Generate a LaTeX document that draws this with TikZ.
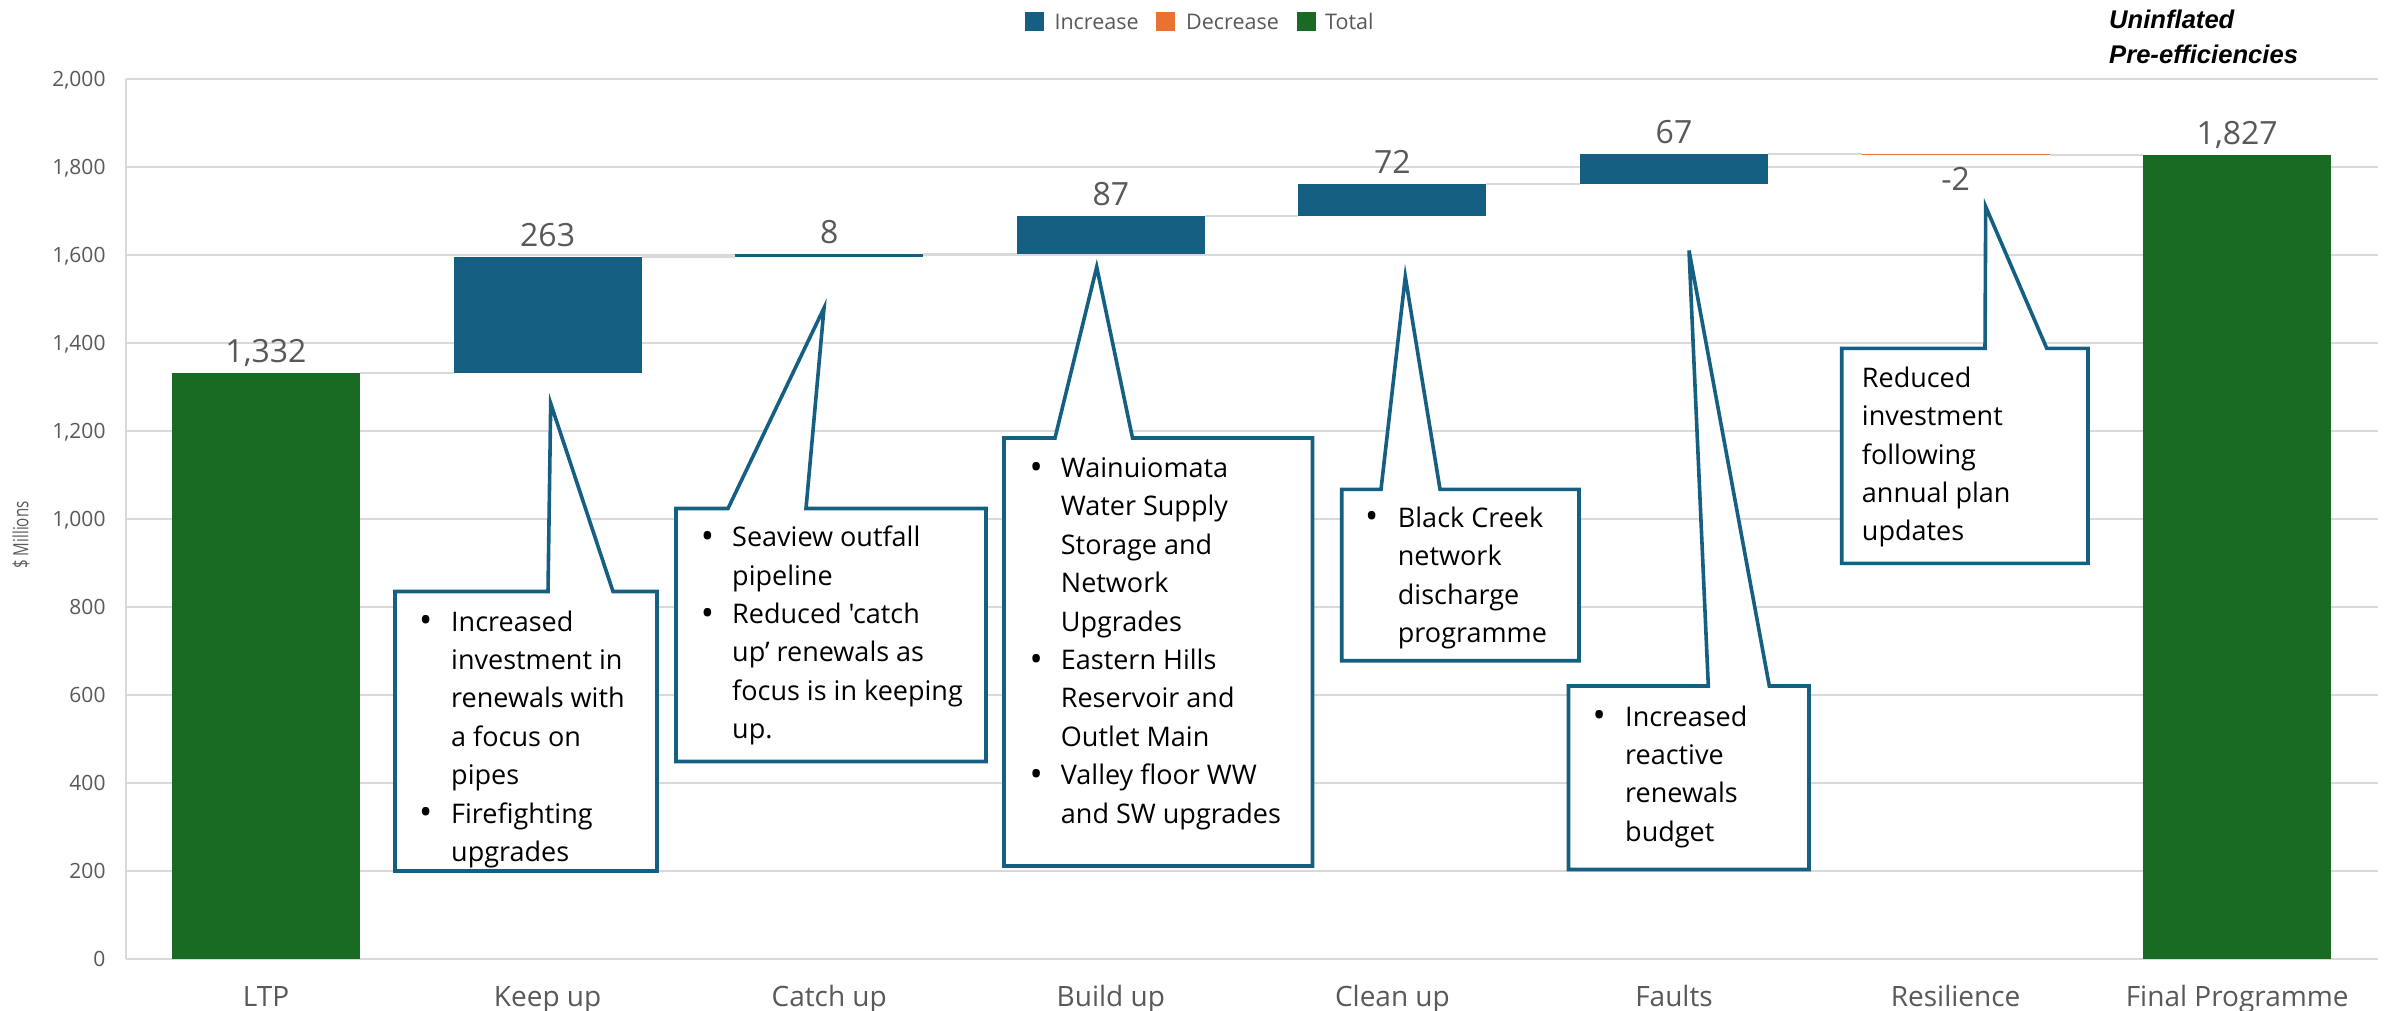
\documentclass[tikz,border=0pt]{standalone}
\usepackage{fontspec}
\usepackage{graphicx}
\setmainfont{Open Sans}
\newfontfamily\calloutfont{Open Sans}[Ligatures=TeXOff]
\newfontfamily\titlefont{Liberation Sans}

\definecolor{incr}{HTML}{156082}
\definecolor{decr}{HTML}{E97132}
\definecolor{total}{HTML}{196B24}
\definecolor{gridgray}{HTML}{D9D9D9}
\definecolor{labelgray}{HTML}{595959}

% value (in $ millions) -> vertical position on the page
\newcommand\vy[1]{958.5-0.4396*(#1)}
% list bullet, a little heavier than the font's own
\newcommand\blt{\raisebox{-1.5pt}{\scalebox{1.3}{\textbullet}}}

\begin{document}
\begin{tikzpicture}[x=1pt,y=-1pt,
  grid/.style={draw=gridgray,line width=2pt},
  conn/.style={draw=gridgray,line width=2pt},
  callout/.style={draw=incr,line width=3.6pt,fill=white,line join=miter},
  ctext/.style={anchor=base west,inner sep=0pt,text=black,
    font=\calloutfont\fontsize{27}{38.4}\selectfont},
  vallabel/.style={anchor=base,inner sep=0pt,text=labelgray,font=\fontsize{32}{38}\selectfont},
  catlabel/.style={anchor=base,inner sep=0pt,text=labelgray,font=\fontsize{28}{34}\selectfont},
  ticklabel/.style={anchor=base east,inner sep=0pt,text=labelgray,font=\fontsize{21}{25}\selectfont},
  legsq/.style={minimum size=18.7pt,inner sep=0pt,draw=none},
  legtxt/.style={anchor=base west,inner sep=0pt,text=labelgray,font=\fontsize{21.5}{26}\selectfont},
  titletxt/.style={anchor=base west,inner sep=0pt,text=black,
    font=\titlefont\bfseries\itshape\fontsize{25.6}{35}\selectfont}
]
\useasboundingbox (0,0) rectangle (2395,1011);
\fill[white] (0,0) rectangle (2395,1011);

% gridlines, axis and tick labels
\foreach \v in {0,200,...,2000}
  \draw[grid] (125.5,{\vy{\v}}) -- (2378,{\vy{\v}});
\draw[grid] (125.5,{\vy{2000}}) -- (125.5,{\vy{0}});
\foreach \v/\t in {0/0,200/200,400/400,600/600,800/800,1000/{1,000},
                   1200/{1,200},1400/{1,400},1600/{1,600},1800/{1,800},2000/{2,000}}
  \node[ticklabel] at (105.7,{\vy{\v}+7.5}) {\t};
\node[rotate=90,inner sep=0pt,text=labelgray,font=\fontsize{21}{24}\selectfont]
  (ytitle) at (21,535) {\scalebox{0.72}[1]{\$ Millions}};

% connectors between consecutive bars
\foreach \c/\v in {266/1332,547.6/1595,829.2/1603,1110.8/1690,1392.4/1762,1674/1829,1955.6/1827}
  \draw[conn] (\c+94,{\vy{\v}}) -- (\c+187.6,{\vy{\v}});

% bars
\foreach \c/\a/\b/\col in {266/0/1332/total,547.6/1332/1595/incr,829.2/1595/1603/incr,
    1110.8/1603/1690/incr,1392.4/1690/1762/incr,1674/1762/1829/incr,
    1955.6/1827/1829/decr,2237.2/0/1827/total}
  \fill[\col] (\c-94,{\vy{\a}}) rectangle (\c+94,{\vy{\b}});

% value labels
\node[vallabel] (v0) at (266,362.5) {1,332};
\node[vallabel] (v1) at (547.6,246.8) {263};
\node[vallabel] (v2) at (829.2,243.3) {8};
\node[vallabel] (v3) at (1110.8,205.1) {87};
\node[vallabel] (v4) at (1392.4,173.4) {72};
\node[vallabel] (v5) at (1674,144) {67};
\node[vallabel] (v6) at (1955.6,190.3) {-2};
\node[vallabel] (v7) at (2237.2,144.9) {1,827};

% category labels
\foreach \c/\t [count=\i] in {266/LTP,547.6/Keep up,829.2/Catch up,1110.8/Build up,
    1392.4/Clean up,1674/Faults,1955.6/Resilience,2237.2/Final Programme}
  \node[catlabel] (cat\i) at (\c,1006) {\t};

% legend
\node[legsq,fill=incr] (lgI) at (1034.4,21.4) {};
\node[legtxt] (lgIt) at (1054.3,29.3) {Increase};
\node[legsq,fill=decr] (lgD) at (1165.4,21.4) {};
\node[legtxt] (lgDt) at (1186,29.3) {Decrease};
\node[legsq,fill=total] (lgT) at (1306.4,21.4) {};
\node[legtxt] (lgTt) at (1325,29.3) {Total};

% heading
\node[titletxt] (t1) at (2109,28.3) {Uninflated};
\node[titletxt] (t2) at (2109,63.3) {Pre-efficiencies};

% callout: Keep up
\coordinate (kTip) at (550.7,403.5);
\draw[callout] (395,591.5) -- (548,591.5) -- (kTip) -- (613,591.5) -- (657,591.5)
  -- (657,871) -- (395,871) -- cycle;
\node[ctext] (kText) at (419,631) {\begin{tabular}[t]{@{}p{32pt}@{}l@{}}
  \blt & Increased\\ & investment in\\ & renewals with\\ & a focus on\\ & pipes\\
  \blt & Firefighting\\ & upgrades\end{tabular}};

% callout: Catch up
\coordinate (cTip) at (824,308);
\draw[callout] (676,508.5) -- (728,508.5) -- (cTip) -- (806,508.5) -- (986,508.5)
  -- (986,761.5) -- (676,761.5) -- cycle;
\node[ctext] (cText) at (700.7,546.7) {\begin{tabular}[t]{@{}p{31.3pt}@{}l@{}}
  \blt & Seaview outfall\\ & pipeline\\
  \blt & Reduced 'catch\\ & up’ renewals as\\ & focus is in keeping\\ & up.\end{tabular}};

% callout: Build up
\coordinate (bTip) at (1096.7,267);
\draw[callout] (1004,438) -- (1055,438) -- (bTip) -- (1132.5,438) -- (1312.5,438)
  -- (1312.5,866) -- (1004,866) -- cycle;
\node[ctext] (bText) at (1029.3,477.5) {\begin{tabular}[t]{@{}p{31.4pt}@{}l@{}}
  \blt & Wainuiomata\\ & Water Supply\\ & Storage and\\ & Network\\ & Upgrades\\
  \blt & Eastern Hills\\ & Reservoir and\\ & Outlet Main\\
  \blt & Valley floor WW\\ & and SW upgrades\end{tabular}};

% callout: Clean up
\coordinate (lTip) at (1405.3,276.7);
\draw[callout] (1341.7,489.3) -- (1381,489.3) -- (lTip) -- (1440,489.3) -- (1579,489.3)
  -- (1579,660.7) -- (1341.7,660.7) -- cycle;
\node[ctext] (lText) at (1365,527.3) {\begin{tabular}[t]{@{}p{32.7pt}@{}l@{}}
  \blt & Black Creek\\ & network\\ & discharge\\ & programme\end{tabular}};

% callout: Faults
\coordinate (fTip) at (1689,250.5);
\draw[callout] (1568.5,686) -- (1708.3,686) -- (fTip) -- (1769.3,686) -- (1809,686)
  -- (1809,869.5) -- (1568.5,869.5) -- cycle;
\node[ctext] (fText) at (1592.3,726) {\begin{tabular}[t]{@{}p{32.7pt}@{}l@{}}
  \blt & Increased\\ & reactive\\ & renewals\\ & budget\end{tabular}};

% callout: Resilience
\coordinate (rTip) at (1985.7,206.7);
\draw[callout] (1841.7,348.3) -- (1985,348.3) -- (rTip) -- (2046.7,348.3) -- (2088,348.3)
  -- (2088,563.3) -- (1841.7,563.3) -- cycle;
\node[ctext] (rText) at (1861.7,387.3) {\begin{tabular}[t]{@{}l@{}}
  Reduced\\ investment\\ following\\ annual plan\\ updates\end{tabular}};
\end{tikzpicture}
\end{document}
